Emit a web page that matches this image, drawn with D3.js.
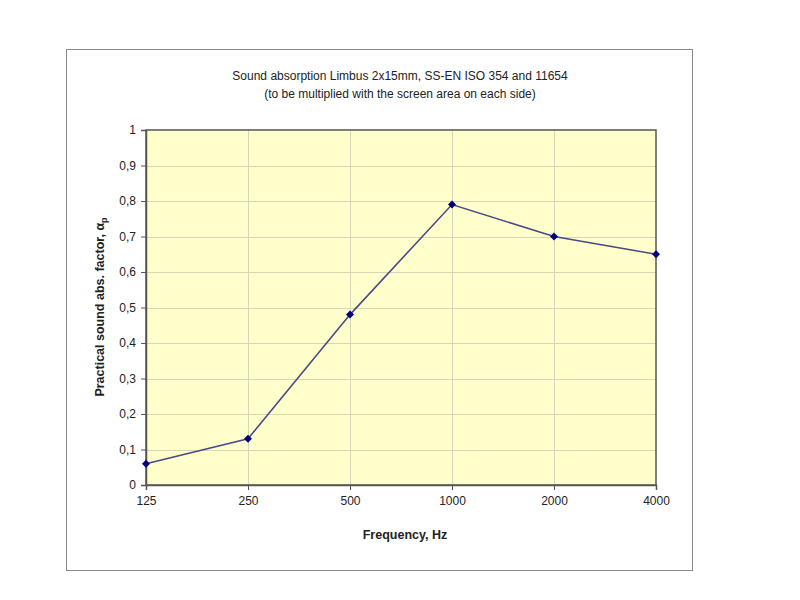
<!DOCTYPE html>
<html><head><meta charset="utf-8">
<script src="https://cdn.jsdelivr.net/npm/d3@7"></script>
<style>body{margin:0;background:#fff;}svg{display:block;font-family:"Liberation Sans",Arial,sans-serif;}</style>
</head><body>
<svg id="c" width="800" height="600"></svg>
<script>
const categories = ["125","250","500","1000","2000","4000"];
const values = [0.06, 0.13, 0.48, 0.79, 0.70, 0.65];
const yTicks = [0,0.1,0.2,0.3,0.4,0.5,0.6,0.7,0.8,0.9,1];
const titleLines = ["Sound absorption Limbus 2x15mm, SS-EN ISO 354 and 11654","(to be multiplied with the screen area on each side)"];

const svg = d3.select("#c");
svg.append("rect").attr("x",66.5).attr("y",49.5).attr("width",626).attr("height",521)
  .attr("fill","#fff").attr("stroke","#8a8a8a").attr("stroke-width",1);

const L=146, R=656, T=130, B=485;
const x = d3.scalePoint().domain(categories).range([L,R]);
const y = d3.scaleLinear().domain([0,1]).range([B,T]);

svg.append("rect").attr("x",L).attr("y",T).attr("width",R-L).attr("height",B-T).attr("fill","#ffffcc");

const g = svg.append("g");
g.selectAll("line.hg").data(yTicks.slice(1,-1)).join("line")
  .attr("x1",L).attr("x2",R).attr("y1",d=>Math.round(y(d))+0.5).attr("y2",d=>Math.round(y(d))+0.5)
  .attr("stroke","#d6d6b8").attr("stroke-width",1);
g.selectAll("line.vg").data(categories.slice(1,-1)).join("line")
  .attr("y1",T).attr("y2",B).attr("x1",d=>Math.round(x(d))+0.5).attr("x2",d=>Math.round(x(d))+0.5)
  .attr("stroke","#d6d6b8").attr("stroke-width",1);

svg.append("rect").attr("x",L).attr("y",T).attr("width",R-L).attr("height",B-T)
  .attr("fill","none").attr("stroke","#555").attr("stroke-width",1.5);

const yAxis = svg.append("g").attr("transform",`translate(${L},0)`)
  .call(d3.axisLeft(y).tickValues(yTicks).tickSize(5).tickPadding(5)
    .tickFormat(d=>String(d3.format(".1~f")(d)).replace(".",",")));
const xAxis = svg.append("g").attr("transform",`translate(0,${B})`)
  .call(d3.axisBottom(x).tickSize(5).tickPadding(6));
[yAxis,xAxis].forEach(a=>{
  a.select(".domain").attr("stroke","#555").attr("stroke-width",1.5);
  a.selectAll(".tick line").attr("stroke","#555");
  a.selectAll("text").attr("font-size",12).attr("fill","#222").attr("font-family","Liberation Sans, Arial, sans-serif");
});

const line = d3.line().x((d,i)=>x(categories[i])).y(d=>y(d));
svg.append("path").datum(values).attr("d",line).attr("fill","none")
  .attr("stroke","#4a4a88").attr("stroke-width",1.6);
svg.selectAll("path.m").data(values).join("path")
  .attr("d",d3.symbol(d3.symbolSquare,32))
  .attr("transform",(d,i)=>`translate(${x(categories[i])},${y(d)}) rotate(45)`)
  .attr("fill","#000080");

svg.selectAll("text.title").data(titleLines).join("text")
  .attr("x",400).attr("y",(d,i)=>80+i*18).attr("text-anchor","middle")
  .attr("font-size",12).attr("fill","#222").text(d=>d);

svg.append("text").attr("x",405).attr("y",539).attr("text-anchor","middle")
  .attr("font-size",12.5).attr("font-weight","bold").attr("fill","#222").text("Frequency, Hz");

const yl = svg.append("text").attr("transform","translate(104,307) rotate(-90)")
  .attr("text-anchor","middle").attr("font-size",12.5).attr("font-weight","bold").attr("fill","#222");
yl.append("tspan").text("Practical sound abs. factor, α");
yl.append("tspan").attr("font-size",9).attr("dy",3).text("p");
</script>
</body></html>
